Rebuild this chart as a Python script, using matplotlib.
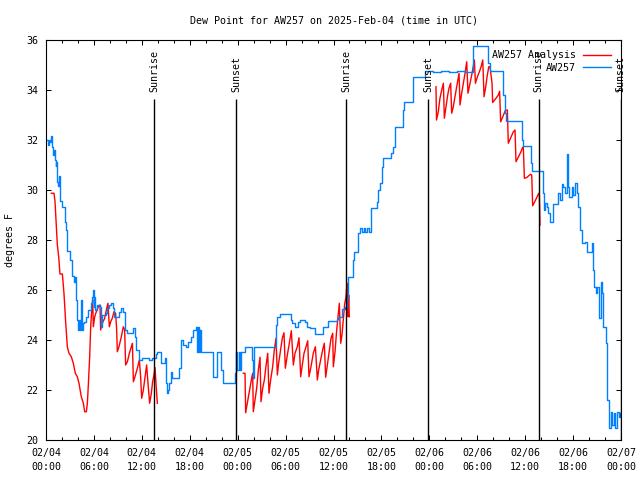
import matplotlib
matplotlib.use('Agg')
from matplotlib import pyplot

# hours since 2025-02-04 00:00 UTC
blue_hours = [
    0.05, 0.2, 0.38, 0.55, 0.67, 0.8, 0.92, 1.0, 1.1, 1.21, 1.3, 1.42, 1.5, 1.63, 1.75,
    2.05, 2.34, 2.5, 2.67, 3.0, 3.26, 3.45, 3.59, 3.71, 3.84, 4.0, 4.17, 4.25, 4.34,
    4.45, 4.6, 4.76, 5.05, 5.3, 5.59, 5.75, 5.84, 5.95, 6.01, 6.1, 6.22, 6.43, 6.76,
    6.93, 7.05, 7.18, 7.47, 7.68, 7.9, 8.1, 8.35, 8.51, 9.14, 9.43, 9.68, 9.85, 10.19,
    10.69, 10.94, 11.1, 11.27, 11.65, 12.06, 12.48, 12.9, 13.32, 13.73, 13.94, 14.28,
    14.44, 14.69, 14.86, 15.03, 15.19, 15.3, 15.4, 15.61, 15.82, 16.36, 16.65, 16.94,
    17.2, 17.53, 17.78, 18.12, 18.4, 18.74, 18.87, 19.03, 19.2, 19.28, 19.37, 19.45,
    20.74, 20.95, 21.25, 21.45, 21.79, 21.91, 22.21, 23.46, 23.67, 23.79, 23.95, 24.17,
    24.29, 24.46, 24.71, 24.96, 25.54, 25.75, 25.88, 26.05, 28.55, 28.8, 28.97, 29.3,
    30.47, 30.64, 30.81, 31.18, 31.6, 31.81, 32.43, 32.64, 33.06, 33.68, 34.31, 34.64,
    35.14, 35.35, 35.98, 36.4, 36.61, 37.02, 37.44, 37.7, 37.86, 38.28, 38.4, 38.56,
    38.98, 39.1, 39.32, 39.53, 39.82, 40.0, 40.16, 40.49, 40.66, 41.41, 41.49, 41.62,
    41.82, 42.03, 42.24, 43.0, 43.16, 43.49, 43.7, 44.53, 44.66, 44.83, 45.71, 45.92,
    47.25, 47.46, 48.5, 49.5, 50.5, 51.5, 52.5, 53.43, 53.51, 55.18, 55.39, 55.6,
    57.06, 57.19, 57.35, 57.43, 57.6, 59.56, 59.64, 59.77, 60.61, 60.69, 60.82, 62.07,
    62.2, 62.36, 62.49, 62.69, 62.9, 63.11, 63.32, 63.53, 63.95, 64.15, 64.36, 64.57,
    64.78, 64.99, 65.28, 65.41, 65.53, 65.82, 66.03, 66.24, 66.45, 66.66, 66.87, 67.08,
    67.49, 67.7, 68.12, 68.33, 68.45, 68.62, 68.87, 69.04, 69.29, 69.45, 69.62, 69.79,
    70.12, 70.29, 70.46, 70.54, 70.71, 70.88, 71.13, 71.25, 71.46, 71.71, 71.88, 72.0]
blue_dewpt = [
    32.0, 31.8, 32.0, 31.9, 32.15, 31.7, 31.4, 31.6, 31.2, 30.95, 31.1, 30.3, 30.15, 30.55, 29.55,
    29.3, 28.7, 28.4, 27.55, 27.2, 26.55, 26.3, 26.5, 25.6, 24.8, 24.4, 24.8, 24.4, 25.6,
    24.4, 24.67, 24.7, 24.93, 25.2, 25.47, 25.7, 26.0, 25.3, 25.73, 25.2, 25.2, 25.4, 25.33,
    24.53, 25.0, 25.0, 25.07, 25.27, 25.4, 25.47, 25.27, 24.93, 25.13, 25.27, 25.13, 24.4, 24.27,
    24.27, 24.47, 24.13, 23.6, 23.2, 23.27, 23.27, 23.2, 23.27, 23.44, 23.5, 23.5,
    23.07, 23.07, 23.27, 22.27, 21.87, 22.0, 22.27, 22.73, 22.47, 22.47, 22.87, 24.0,
    23.8, 23.73, 23.93, 24.13, 24.4, 24.53, 23.53, 24.53, 23.53, 24.4, 23.53, 23.53,
    23.53, 22.53, 22.53, 23.53, 23.53, 22.8, 22.27, 22.27, 22.67, 23.53, 22.8, 23.53,
    22.8, 23.5, 23.53, 23.73, 23.73, 23.2, 22.47, 23.73, 23.73, 24.6, 24.93, 25.04,
    25.04, 24.8, 24.67, 24.53, 24.73, 24.8, 24.73, 24.53, 24.47, 24.24, 24.24, 24.51,
    24.51, 24.77, 24.77, 24.83, 24.93, 25.23, 25.33, 25.67, 26.51, 26.51, 27.2, 27.53,
    27.53, 28.27, 28.47, 28.3, 28.47, 28.3, 28.47, 28.3, 29.27, 29.27, 29.53, 30.0,
    30.27, 30.93, 31.27, 31.27, 31.49, 31.73, 32.51, 32.51, 33.2, 33.53, 33.53, 34.51,
    34.51, 34.77, 34.72, 34.77, 34.72, 34.77, 34.72, 34.77, 35.77, 35.77, 35.07, 34.77,
    34.77, 33.8, 33.8, 33.07, 32.76, 32.76, 32.0, 31.76, 31.76, 31.07, 30.77, 30.77,
    29.87, 29.2, 29.47, 29.33, 29.07, 28.71, 28.71, 29.44, 29.44, 29.87, 29.6, 30.24,
    30.13, 29.87, 31.43, 30.13, 29.73, 30.13, 29.8, 30.27, 29.87, 29.33, 28.4, 27.89,
    27.93, 27.53, 27.53, 27.89, 26.8, 26.13, 25.87, 26.13, 24.87, 26.33, 25.87, 24.53,
    23.87, 21.6, 20.87, 20.47, 21.13, 20.6, 21.07, 20.47, 21.13, 20.93, 21.07, 21.0]

red_hours = [
    0.67, 1.0, 1.13, 1.25, 1.42, 1.59, 1.75, 2.05, 2.25, 2.46, 2.67, 2.88, 3.17, 3.42,
    3.67, 3.92, 4.13, 4.42, 4.68, 4.84, 5.05, 5.18, 5.3, 5.47, 5.59, 5.72, 5.84, 5.93,
    6.1, 6.3, 6.55, 6.76, 6.84, 7.05, 7.35, 7.6, 7.76, 7.93, 8.1, 8.3, 8.51, 8.72, 8.85,
    8.93, 9.14, 9.43, 9.68, 9.85, 9.97, 10.19, 10.44, 10.69, 10.82, 10.94, 11.14, 11.44,
    11.69, 11.85, 11.98, 12.19, 12.4, 12.6, 12.77, 12.98, 13.19, 13.35, 13.52, 13.65,
    13.77, 13.94,
    None,
    24.71, 24.92, 25.0, 25.13, 25.34, 25.54, 25.75, 25.88, 25.96, 26.17, 26.38, 26.59,
    26.8, 26.92, 27.13, 27.34, 27.51, 27.76, 27.92, 28.13, 28.38, 28.59, 28.8, 28.97,
    29.13, 29.38, 29.59, 29.8, 29.97, 30.22, 30.47, 30.72, 30.97, 31.18, 31.47, 31.68,
    31.89, 32.06, 32.31, 32.56, 32.77, 32.93, 33.18, 33.47, 33.73, 33.98, 34.14, 34.39,
    34.64, 34.85, 35.02, 35.23, 35.48, 35.69, 35.9, 35.98, 36.19, 36.4, 36.61, 36.73,
    36.9, 37.06, 37.23, 37.4, 37.57, 37.69, 37.82, 37.9, 37.98,
    None,
    48.83, 48.9, 49.12, 49.33, 49.55, 49.76, 49.88, 50.09, 50.3, 50.46, 50.67, 50.8,
    51.0, 51.21, 51.51, 51.72, 51.84, 52.05, 52.26, 52.47, 52.68, 52.84, 53.1, 53.35,
    53.64, 53.77, 54.02, 54.27, 54.48, 54.69, 54.85, 55.06, 55.23, 55.44, 55.6, 55.85,
    55.93, 56.3, 56.64, 56.8, 56.93, 57.2, 57.5, 57.77, 57.89, 58.2, 58.52, 58.73,
    58.85, 59.2, 59.5, 59.68, 59.77, 59.9, 60.2, 60.45, 60.69, 60.82, 60.94, 61.2,
    61.5, 61.69, 61.77, 61.86]
red_dewpt = [
    29.87, 29.87, 29.53, 28.8, 27.8, 27.33, 26.64, 26.64, 25.87, 24.73, 23.73, 23.47, 23.33, 23.07,
    22.67, 22.53, 22.27, 21.73, 21.47, 21.13, 21.13, 21.47, 22.2, 23.33, 24.47, 25.2, 25.6, 24.53,
    24.93, 25.13, 25.33, 25.4, 24.4, 24.67, 24.87, 25.27, 25.47, 24.53, 24.73, 24.87, 25.13, 25.07, 24.4,
    23.53, 23.73, 24.13, 24.53, 24.4, 23.0, 23.13, 23.47, 23.73, 23.87, 22.33, 22.53, 22.87,
    23.2, 22.53, 21.67, 22.0, 22.53, 23.0, 22.27, 21.47, 21.87, 22.33, 22.6, 22.9,
    22.27, 21.47,
    None,
    22.67, 22.67, 21.09, 21.33, 21.73, 22.07, 22.47, 22.67, 21.13, 21.6, 22.07, 22.8,
    23.31, 21.53, 22.07, 22.4, 22.87, 23.47, 21.87, 22.4, 22.93, 23.6, 24.07, 22.6,
    23.07, 23.6, 24.07, 24.29, 22.87, 23.4, 23.87, 24.37, 23.0, 23.47, 23.73, 24.09,
    22.53, 22.93, 23.47, 23.73, 23.97, 22.53, 22.93, 23.47, 23.73, 22.4, 22.8, 23.2,
    23.6, 23.87, 22.51, 23.0, 23.6, 24.07, 24.27, 22.93, 23.53, 24.4, 25.07, 25.47,
    23.87, 24.2, 24.8, 25.44, 25.73, 26.27, 24.93, 25.8, 24.93,
    None,
    34.13, 32.8, 33.13, 33.67, 34.0, 34.27, 32.87, 33.33, 33.8, 34.07, 34.27, 33.07,
    33.33, 33.73, 34.27, 34.67, 33.4, 33.87, 34.27, 34.67, 35.13, 33.87, 34.27, 34.67,
    35.2, 34.27, 34.53, 34.73, 34.93, 35.2, 33.73, 34.13, 34.53, 34.93, 34.93, 34.27,
    33.5, 33.65, 33.8, 33.95, 32.73, 32.93, 33.17, 33.2, 31.87, 32.1, 32.33, 32.4,
    31.13, 31.35, 31.55, 31.71, 31.71, 30.47, 30.5, 30.57, 30.63, 30.6, 29.37, 29.53,
    29.73, 29.87, 29.87, 28.6]

sun_hours = [13.55, 23.83, 37.62, 47.88, 61.69, 71.95]
sun_labels = ['Sunrise', 'Sunset', 'Sunrise', 'Sunset', 'Sunrise', 'Sunset']

x_ticks = [0, 6, 12, 18, 24, 30, 36, 42, 48, 54, 60, 66, 72]
x_tick_labels = ['02/04\n00:00', '02/04\n06:00', '02/04\n12:00', '02/04\n18:00',
                 '02/05\n00:00', '02/05\n06:00', '02/05\n12:00', '02/05\n18:00',
                 '02/06\n00:00', '02/06\n06:00', '02/06\n12:00', '02/06\n18:00',
                 '02/07\n00:00']

pyplot.rcParams['font.family'] = 'DejaVu Sans Mono'
pyplot.rcParams['font.size'] = 7.2

fig = pyplot.figure(figsize=(6.4, 4.8), dpi=100)
ax = fig.add_axes([46 / 640, 40 / 480, 575 / 640, 400 / 480])

red_x = [float('nan') if h is None else h for h in red_hours]
red_y = [float('nan') if v is None else v for v in red_dewpt]
ax.plot(red_x, red_y, color='#ff0000', lw=1.0, label='AW257 Analysis')
ax.plot(blue_hours, blue_dewpt, color='#0080ff', lw=1.0, drawstyle='steps-post', label='AW257')

for h, lab in zip(sun_hours, sun_labels):
    ax.vlines(h, 20, 33.63, color='black', lw=1.0, zorder=3)
    ax.text(h, 33.92, lab, rotation=90, ha='center', va='bottom', clip_on=False)

ax.set_xlim(0, 72)
ax.set_ylim(20, 36)
ax.set_xticks(x_ticks)
ax.set_xticklabels(x_tick_labels)
for lbl in ax.get_xticklabels():
    lbl.set_linespacing(1.55)
ax.set_xticks(range(0, 73, 2), minor=True)
ax.set_yticks(range(20, 37, 2))
ax.tick_params(which='both', direction='in', top=True, right=True, width=0.75)
ax.tick_params(which='major', length=3.6, pad=5.5)
ax.tick_params(which='minor', length=2.2)
for s in ax.spines.values():
    s.set_linewidth(0.8)

ax.set_title('Dew Point for AW257 on 2025-Feb-04 (time in UTC)', fontsize=7.2, pad=12)
ax.set_ylabel('degrees F', labelpad=8)
ax.legend(loc='upper right', markerfirst=False, frameon=False, handlelength=2.8,
          handletextpad=0.7, labelspacing=0.25, borderpad=0.2, borderaxespad=0.85)

fig.savefig('out.png', dpi=100)
